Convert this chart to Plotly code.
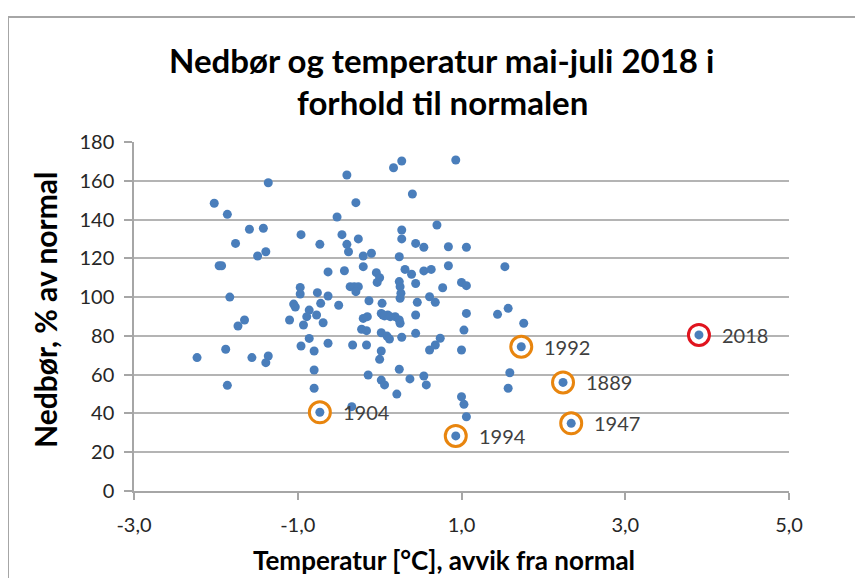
import plotly.graph_objects as go

# Temperature anomaly (°C) and precipitation (% of normal) for each year (unlabelled years)
temp = [-1.36, -0.40, -2.02, -1.86, -0.52, -1.59, -1.42, -0.96, -0.46, -1.76,
        -0.73, -0.40, -1.39, -1.49, -0.38, -1.96, -1.93, -0.63, -0.43, -1.83,
        -0.97, -0.97, -0.76, -0.63, -1.05, -1.03, -0.86, -0.72, -0.50, -0.89,
        -0.77, -1.10, -0.93, -0.69, -0.36, -1.65, -1.73, -0.86, -0.96, -0.63,
        -0.80, -1.88, -2.23, -1.56, -1.36, -1.39, -0.80, -1.86, -0.80, -0.34,
        0.17, 0.27, 0.93, -0.29, 0.40, 0.70, -0.26, 0.27, 0.27, 0.44,
        0.54, 0.84, 1.06, -0.20, -0.10, 0.24, 1.53, -0.20, -0.04, 0.00,
        -0.03, 0.31, 0.39, 0.44, 0.54, 0.63, 0.84, 0.24, 0.25, -0.31,
        -0.26, -0.29, 0.77, 1.00, 1.06, 0.26, 0.25, -0.13, 0.03, 0.46,
        0.61, 0.68, 1.06, 1.44, 1.57, 1.76, -0.15, 0.04, 0.10, 0.19,
        0.44, -0.20, 0.02, 0.06, 0.13, 0.24, 0.25, -0.22, -0.16, 0.02,
        0.09, 0.12, 0.27, 0.44, -0.33, -0.16, 0.02, 0.00, 0.61, 0.68,
        0.74, 1.03, 1.00, -0.14, 0.02, 0.06, 0.24, 0.37, 0.54, 0.57,
        0.21, 1.59, 1.57, 1.00, 1.03, 1.06]
precip = [159.0, 163.0, 148.4, 142.7, 141.3, 135.0, 135.5, 132.2, 132.2, 127.7,
          127.2, 127.2, 123.4, 121.2, 123.4, 116.2, 116.2, 113.0, 113.6, 100.0,
          105.0, 101.6, 102.3, 100.6, 96.4, 94.9, 93.3, 96.8, 95.8, 89.9,
          90.8, 88.2, 85.6, 86.8, 105.4, 88.2, 85.1, 78.7, 74.8, 76.2,
          72.2, 73.1, 68.8, 68.8, 69.6, 66.2, 62.4, 54.5, 53.0, 43.5,
          166.7, 170.2, 170.7, 148.7, 153.2, 137.2, 130.0, 134.6, 130.0, 127.7,
          125.7, 126.0, 125.7, 121.2, 122.6, 120.8, 115.7, 115.7, 112.6, 110.0,
          107.6, 114.3, 111.8, 107.0, 113.5, 114.3, 116.2, 108.0, 105.4, 105.4,
          105.4, 102.8, 104.8, 107.6, 105.9, 102.0, 99.4, 98.1, 96.8, 97.3,
          100.2, 97.3, 91.6, 91.1, 94.2, 86.5, 89.9, 90.8, 90.8, 89.9,
          90.8, 89.0, 91.6, 90.3, 89.9, 88.2, 86.5, 83.4, 82.7, 81.6,
          79.9, 78.4, 79.3, 81.3, 75.3, 75.3, 72.2, 67.9, 72.7, 75.3,
          78.8, 83.0, 72.7, 59.8, 57.2, 54.7, 62.8, 57.8, 59.3, 54.7,
          50.0, 61.0, 53.0, 48.6, 44.7, 38.3]

# Highlighted years
hl_years = ["1904", "1994", "1992", "1889", "1947", "2018"]
hl_temp = [-0.73, 0.93, 1.73, 2.24, 2.34, 3.90]
hl_precip = [40.6, 28.4, 74.4, 56.0, 34.9, 80.5]
hl_ring = ["#E8850E", "#E8850E", "#E8850E", "#E8850E", "#E8850E", "#E0141E"]

# Axis ticks
y_ticks = [0, 20, 40, 60, 80, 100, 120, 140, 160, 180]
x_ticks = [-3.0, -1.0, 1.0, 3.0, 5.0]
x_ticktext = ["-3,0", "-1,0", "1,0", "3,0", "5,0"]

title_lines = ["Nedbør og temperatur mai-juli 2018 i", "forhold til normalen"]
x_title = "Temperatur [°C], avvik fra normal"
y_title = "Nedbør, % av normal"

BLUE = "#4A7EBB"
font_main = "Lato, 'Open Sans', sans-serif"

# page offset (body margin) compensation
OFF = 8
W, H = 863 - OFF, 578 - OFF
# plot area in screenshot pixels
SX0, SX1, SY0, SY1 = 134, 789, 142, 491
L, R = SX0 - OFF, W - (SX1 - OFF)
T, B = SY0 - OFF, H - (SY1 - OFF)
pw, ph = W - L - R, H - T - B


def px(xs):
    return (xs - OFF - L) / pw


def py(ys):
    return (H - B - (ys - OFF)) / ph


fig = go.Figure()
fig.add_trace(go.Scatter(x=temp, y=precip, mode="markers",
                         marker=dict(size=9, color=BLUE), showlegend=False,
                         cliponaxis=False))
fig.add_trace(go.Scatter(x=hl_temp, y=hl_precip, mode="markers",
                         marker=dict(size=21, color="white",
                                     line=dict(color=hl_ring, width=3)),
                         showlegend=False, cliponaxis=False))
fig.add_trace(go.Scatter(x=hl_temp, y=hl_precip, mode="markers",
                         marker=dict(size=9, color=BLUE), showlegend=False,
                         cliponaxis=False))

# Chart border
fig.add_shape(type="rect", xref="paper", yref="paper",
              x0=px(8), x1=px(900), y0=py(17), y1=py(620),
              line=dict(color="#A6A6A6", width=2), layer="below")

annotations = [
    dict(text="<b>" + title_lines[0] + "</b>", x=px(441), y=py(60),
         font=dict(size=33, color="#000000", family=font_main)),
    dict(text="<b>" + title_lines[1] + "</b>", x=px(442), y=py(102),
         font=dict(size=33, color="#000000", family=font_main)),
    dict(text="<b>" + x_title + "</b>", x=px(444), y=py(560),
         font=dict(size=26, color="#000000", family=font_main)),
    dict(text="<b>" + y_title + "</b>", x=px(45), y=py(310), textangle=-90,
         font=dict(size=30, color="#000000", family=font_main)),
]
for a in annotations:
    a.update(xref="paper", yref="paper", xanchor="center", yanchor="middle",
             showarrow=False)

# Year labels next to the highlighted points
for yr, xv, yv in zip(hl_years, hl_temp, hl_precip):
    annotations.append(dict(text=yr, x=xv, y=yv, xref="x", yref="y",
                            xanchor="left", yanchor="middle", xshift=21,
                            showarrow=False,
                            font=dict(size=20, color="#404040", family=font_main)))

fig.update_layout(
    width=W, height=H,
    margin=dict(l=L, r=R, t=T, b=B, autoexpand=False),
    paper_bgcolor="white", plot_bgcolor="white",
    annotations=annotations,
    xaxis=dict(range=[-3, 5], tickvals=x_ticks, ticktext=x_ticktext,
               showgrid=False, zeroline=False,
               showline=True, linecolor="#A6A6A6", linewidth=1.5,
               ticks="outside", ticklen=7, tickcolor="#A6A6A6", tickwidth=1.5,
               ticklabelstandoff=8,
               tickfont=dict(size=20, color="#262626", family=font_main)),
    yaxis=dict(range=[0, 180], tickvals=y_ticks,
               showgrid=True, gridcolor="#B4B4B4", gridwidth=1.5,
               zeroline=False,
               showline=True, linecolor="#A6A6A6", linewidth=1.5,
               ticks="outside", ticklen=8, tickcolor="#A6A6A6", tickwidth=1.5,
               ticklabelstandoff=6,
               tickfont=dict(size=20, color="#262626", family=font_main)),
)

fig.write_html("out.html")
